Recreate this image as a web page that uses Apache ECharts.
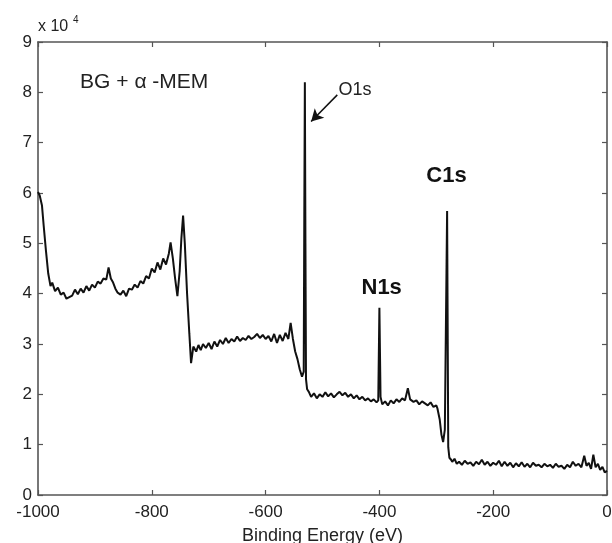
<!DOCTYPE html>
<html>
<head>
<meta charset="utf-8">
<script src="https://cdn.jsdelivr.net/npm/echarts@6/dist/echarts.min.js"></script>
<style>
  html, body { margin: 0; padding: 0; background: #fff; }
  #chart { width: 612px; height: 543px; }
</style>
</head>
<body>
<div id="chart"></div>
<script>
// XPS survey spectrum, BG + α-MEM. Intensity in units of 10^4 counts.
const bindingEnergy = [
  -1000, -997, -993, -990, -986, -982, -978, -975, -970, -965, -960, -955, -950, -945, -940,
  -935, -930, -925, -920, -915, -910, -905, -900, -895, -890, -885, -880, -876, -872, -868,
  -864, -860, -855, -850, -845, -840, -835, -830, -825, -820, -815, -810, -805, -800, -795,
  -790, -785, -780, -775, -770, -767, -763, -759, -755, -751, -748, -745, -742, -738, -734,
  -731, -727, -722, -718, -714, -710, -705, -700, -695, -690, -685, -680, -675, -670, -665,
  -660, -655, -650, -645, -640, -635, -630, -625, -620, -615, -610, -605, -600, -595, -590,
  -585, -580, -575, -570, -565, -560, -556, -552, -548, -544, -540, -536, -533, -532, -531,
  -530, -529, -527, -524, -520, -515, -510, -505, -500, -495, -490, -485, -480, -475, -470,
  -465, -460, -455, -450, -445, -440, -435, -430, -425, -420, -415, -410, -405, -402, -400,
  -398, -395, -390, -385, -380, -375, -370, -365, -360, -355, -350, -346, -340, -335, -330,
  -325, -320, -315, -310, -305, -300, -298, -294, -291, -288, -285, -281, -279, -277, -274,
  -272, -268, -264, -260, -255, -250, -245, -240, -235, -230, -225, -220, -215, -210, -205,
  -200, -195, -190, -185, -180, -175, -170, -165, -160, -155, -150, -145, -140, -135, -130,
  -125, -120, -115, -110, -105, -100, -95, -90, -85, -80, -75, -70, -65, -60, -55,
  -50, -45, -40, -36, -32, -28, -24, -20, -16, -12, -8, -4, 0
];
const intensity = [
  6.02, 5.95, 5.75, 5.35, 4.85, 4.40, 4.15, 4.22, 4.05, 4.12, 3.98, 4.02, 3.90, 3.93, 3.96,
  4.08, 3.99, 4.10, 4.02, 4.15, 4.06, 4.18, 4.12, 4.24, 4.20, 4.30, 4.28, 4.52, 4.30, 4.22,
  4.10, 4.02, 3.98, 4.06, 3.95, 4.10, 4.08, 4.18, 4.12, 4.25, 4.20, 4.35, 4.30, 4.50, 4.42,
  4.62, 4.48, 4.70, 4.58, 4.80, 5.02, 4.70, 4.30, 3.95, 4.45, 5.10, 5.55, 5.00, 4.00, 3.20,
  2.62, 2.95, 2.85, 2.98, 2.88, 3.00, 2.92, 3.02, 2.90, 3.05, 2.95, 3.08, 3.00, 3.12, 3.02,
  3.10, 3.05, 3.15, 3.06, 3.12, 3.08, 3.16, 3.10, 3.14, 3.20, 3.12, 3.18, 3.10, 3.16, 3.05,
  3.20, 3.02, 3.18, 3.06, 3.22, 3.10, 3.42, 3.10, 2.85, 2.70, 2.50, 2.35, 2.45, 5.50, 8.20,
  5.00, 2.30, 2.10, 2.05, 1.95, 2.02, 1.92, 2.00, 1.95, 2.04, 1.96, 2.02, 1.94, 2.00, 2.05,
  1.98, 2.03, 1.95, 2.00, 1.92, 1.98, 1.90, 1.95, 1.88, 1.92, 1.86, 1.90, 1.84, 1.88, 3.72,
  1.95, 1.80, 1.86, 1.78, 1.88, 1.82, 1.90, 1.85, 1.92, 1.88, 2.12, 1.90, 1.85, 1.88, 1.80,
  1.86, 1.82, 1.78, 1.84, 1.75, 1.78, 1.72, 1.50, 1.20, 1.05, 1.30, 5.64, 0.95, 0.74, 0.70,
  0.66, 0.72, 0.62, 0.66, 0.60, 0.68, 0.62, 0.65, 0.58, 0.66, 0.61, 0.70, 0.60, 0.66, 0.58,
  0.64, 0.60, 0.68, 0.57, 0.66, 0.58, 0.64, 0.55, 0.63, 0.57, 0.65, 0.56, 0.62, 0.55, 0.64,
  0.58, 0.60, 0.55, 0.62, 0.57, 0.60, 0.54, 0.62, 0.56, 0.58, 0.52, 0.60, 0.55, 0.66, 0.58,
  0.62, 0.55, 0.78, 0.58, 0.64, 0.52, 0.80, 0.55, 0.62, 0.50, 0.56, 0.45, 0.48
];
const xTicks = [-1000, -800, -600, -400, -200, 0];
const yTicks = [0, 1, 2, 3, 4, 5, 6, 7, 8, 9];

const spectrum = bindingEnergy.map((e, i) => [e, intensity[i]]);

const FONT = '"Liberation Sans", Arial, sans-serif';
const AXIS_COLOR = '#555';
const TEXT_COLOR = '#222';

const chart = echarts.init(document.getElementById('chart'), null, { renderer: 'canvas' });

const frameAxis = {
  show: true,
  lineStyle: { color: AXIS_COLOR, width: 1.6 },
  onZero: false
};
const innerTick = { inside: true, length: 5, lineStyle: { color: AXIS_COLOR, width: 1.2 } };

chart.setOption({
  animation: false,
  backgroundColor: '#fff',
  grid: { left: 38, right: 5, top: 42, bottom: 48, containLabel: false, outerBoundsMode: 'none' },
  xAxis: [
    {
      type: 'value', position: 'bottom',
      min: xTicks[0], max: xTicks[xTicks.length - 1], interval: 200,
      axisLine: frameAxis,
      axisTick: innerTick,
      axisLabel: { color: TEXT_COLOR, fontFamily: FONT, fontSize: 17, margin: 9, formatter: v => String(v) },
      splitLine: { show: false },
      name: 'Binding Energy (eV)', nameLocation: 'middle', nameGap: 32,
      nameTextStyle: { color: TEXT_COLOR, fontFamily: FONT, fontSize: 18 }
    },
    {
      type: 'value', position: 'top',
      min: xTicks[0], max: xTicks[xTicks.length - 1], interval: 200,
      axisLine: frameAxis,
      axisTick: innerTick,
      axisLabel: { show: false },
      splitLine: { show: false }
    }
  ],
  yAxis: [
    {
      type: 'value', position: 'left',
      min: yTicks[0], max: yTicks[yTicks.length - 1], interval: 1,
      axisLine: frameAxis,
      axisTick: innerTick,
      axisLabel: { color: TEXT_COLOR, fontFamily: FONT, fontSize: 17, margin: 6 },
      splitLine: { show: false }
    },
    {
      type: 'value', position: 'right',
      min: yTicks[0], max: yTicks[yTicks.length - 1], interval: 1,
      axisLine: frameAxis,
      axisTick: innerTick,
      axisLabel: { show: false },
      splitLine: { show: false }
    }
  ],
  series: [
    {
      type: 'line',
      xAxisIndex: 0, yAxisIndex: 0,
      data: spectrum,
      showSymbol: false,
      lineStyle: { color: '#111', width: 2 },
      z: 3,
      markLine: {
        silent: true,
        symbol: ['none', 'arrow'],
        symbolSize: [10, 12],
        lineStyle: { color: '#111', width: 1.5, type: 'solid' },
        label: { show: false },
        data: [[{ coord: [-474, 7.95] }, { coord: [-520, 7.42] }]]
      }
    }
  ]
});

// Text annotations anchored to data coordinates
function px(e, v) { return chart.convertToPixel({ xAxisIndex: 0, yAxisIndex: 0 }, [e, v]); }
const pO = px(-472, 8.04);
const pC = px(-282, 6.33);
const pN = px(-396, 4.12);
const pT = px(-926, 8.21);
const pGrid = px(-1000, 9);

chart.setOption({
  graphic: [
    { type: 'text', x: pT[0], y: pT[1], style: { text: 'BG + α -MEM', font: '21px ' + FONT, fill: TEXT_COLOR, verticalAlign: 'middle' } },
    { type: 'text', x: pO[0], y: pO[1], style: { text: 'O1s', font: '18px ' + FONT, fill: TEXT_COLOR, verticalAlign: 'middle' } },
    { type: 'text', x: pC[0], y: pC[1], style: { text: 'C1s', font: 'bold 22px ' + FONT, fill: '#111', align: 'center', verticalAlign: 'middle' } },
    { type: 'text', x: pN[0], y: pN[1], style: { text: 'N1s', font: 'bold 22px ' + FONT, fill: '#111', align: 'center', verticalAlign: 'middle' } },
    { type: 'text', x: pGrid[0], y: pGrid[1] - 15, style: { text: 'x 10', font: '16px ' + FONT, fill: TEXT_COLOR, verticalAlign: 'middle' } },
    { type: 'text', x: pGrid[0] + 35, y: pGrid[1] - 22, style: { text: '4', font: '10px ' + FONT, fill: TEXT_COLOR, verticalAlign: 'middle' } }
  ]
});
</script>
</body>
</html>
